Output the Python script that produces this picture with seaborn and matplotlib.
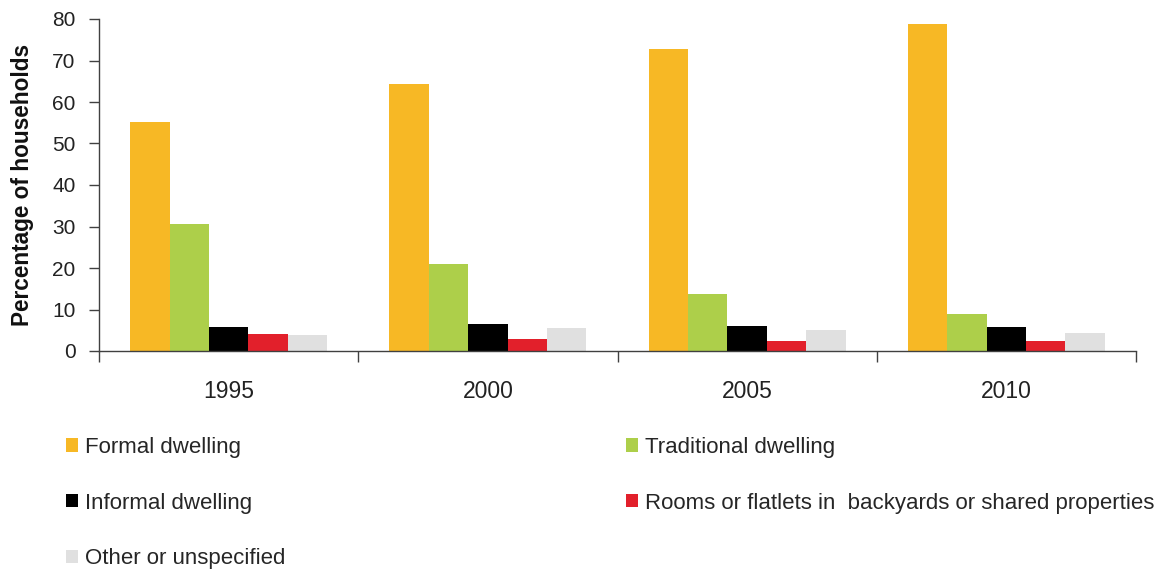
import matplotlib
matplotlib.use("Agg")
import matplotlib.pyplot as plt
import seaborn as sns
import pandas as pd
import numpy as np

years = ["1995", "2000", "2005", "2010"]
categories = ["Formal dwelling", "Traditional dwelling", "Informal dwelling",
              "Rooms or flatlets in  backyards or shared properties", "Other or unspecified"]
formal = [55.2, 64.3, 72.8, 78.8]
traditional = [30.7, 20.9, 13.7, 8.8]
informal = [5.8, 6.5, 6.0, 5.9]
rooms = [4.2, 3.0, 2.4, 2.4]
other = [3.9, 5.5, 5.0, 4.4]
colors = ["#F7B825", "#ADCF4A", "#000000", "#E2202B", "#E0E0E0"]

series = [formal, traditional, informal, rooms, other]
rows = []
for cat, vals in zip(categories, series):
    for y, v in zip(years, vals):
        rows.append({"Year": y, "Type": cat, "Value": v})
df = pd.DataFrame(rows)

sns.set_theme(style="white")
plt.rcParams["font.family"] = ["Liberation Sans", "DejaVu Sans"]

fig = plt.figure(figsize=(11.6, 5.72), dpi=100)
ax = fig.add_axes([99/1160, 1 - 351/572, (1136-99)/1160, (351-19)/572])

sns.barplot(data=df, x="Year", y="Value", hue="Type", hue_order=categories,
            palette=colors, width=0.76, ax=ax, saturation=1, legend=True,
            edgecolor="none", linewidth=0)

axis_col = "#404040"
ax.set_ylim(0, 80)
ax.set_xlim(-0.5, 3.5)
ax.set_yticks(range(0, 81, 10))
ax.set_xlabel("")
ax.set_ylabel("Percentage of households", fontsize=16.3, fontweight="bold",
              color="#111111", labelpad=13)
ax.tick_params(axis="y", labelsize=15, length=7, width=1, color=axis_col,
               labelcolor="#222222", left=True, pad=10)
ax.tick_params(axis="x", which="major", length=0, labelsize=16.5,
               labelcolor="#222222", pad=21)
ax.set_xticks([-0.5, 0.5, 1.5, 2.5, 3.5], minor=True)
ax.tick_params(axis="x", which="minor", length=8, width=1, color=axis_col, bottom=True)
for s in ["top", "right"]:
    ax.spines[s].set_visible(False)
for s in ["left", "bottom"]:
    ax.spines[s].set_color(axis_col)
    ax.spines[s].set_linewidth(1)

handles, labels = ax.get_legend_handles_labels()
ax.get_legend().remove()
order = [0, 2, 4, 1, 3]
fig.legend([handles[i] for i in order], [labels[i] for i in order],
           ncol=2, loc="upper left", bbox_to_anchor=(57/1160, 1 - 428/572),
           borderaxespad=0, frameon=False, fontsize=16,
           handlelength=0.55, handleheight=0.55,
           handletextpad=0.3, labelspacing=1.56, columnspacing=15.35)

fig.savefig("out.png", dpi=100)
